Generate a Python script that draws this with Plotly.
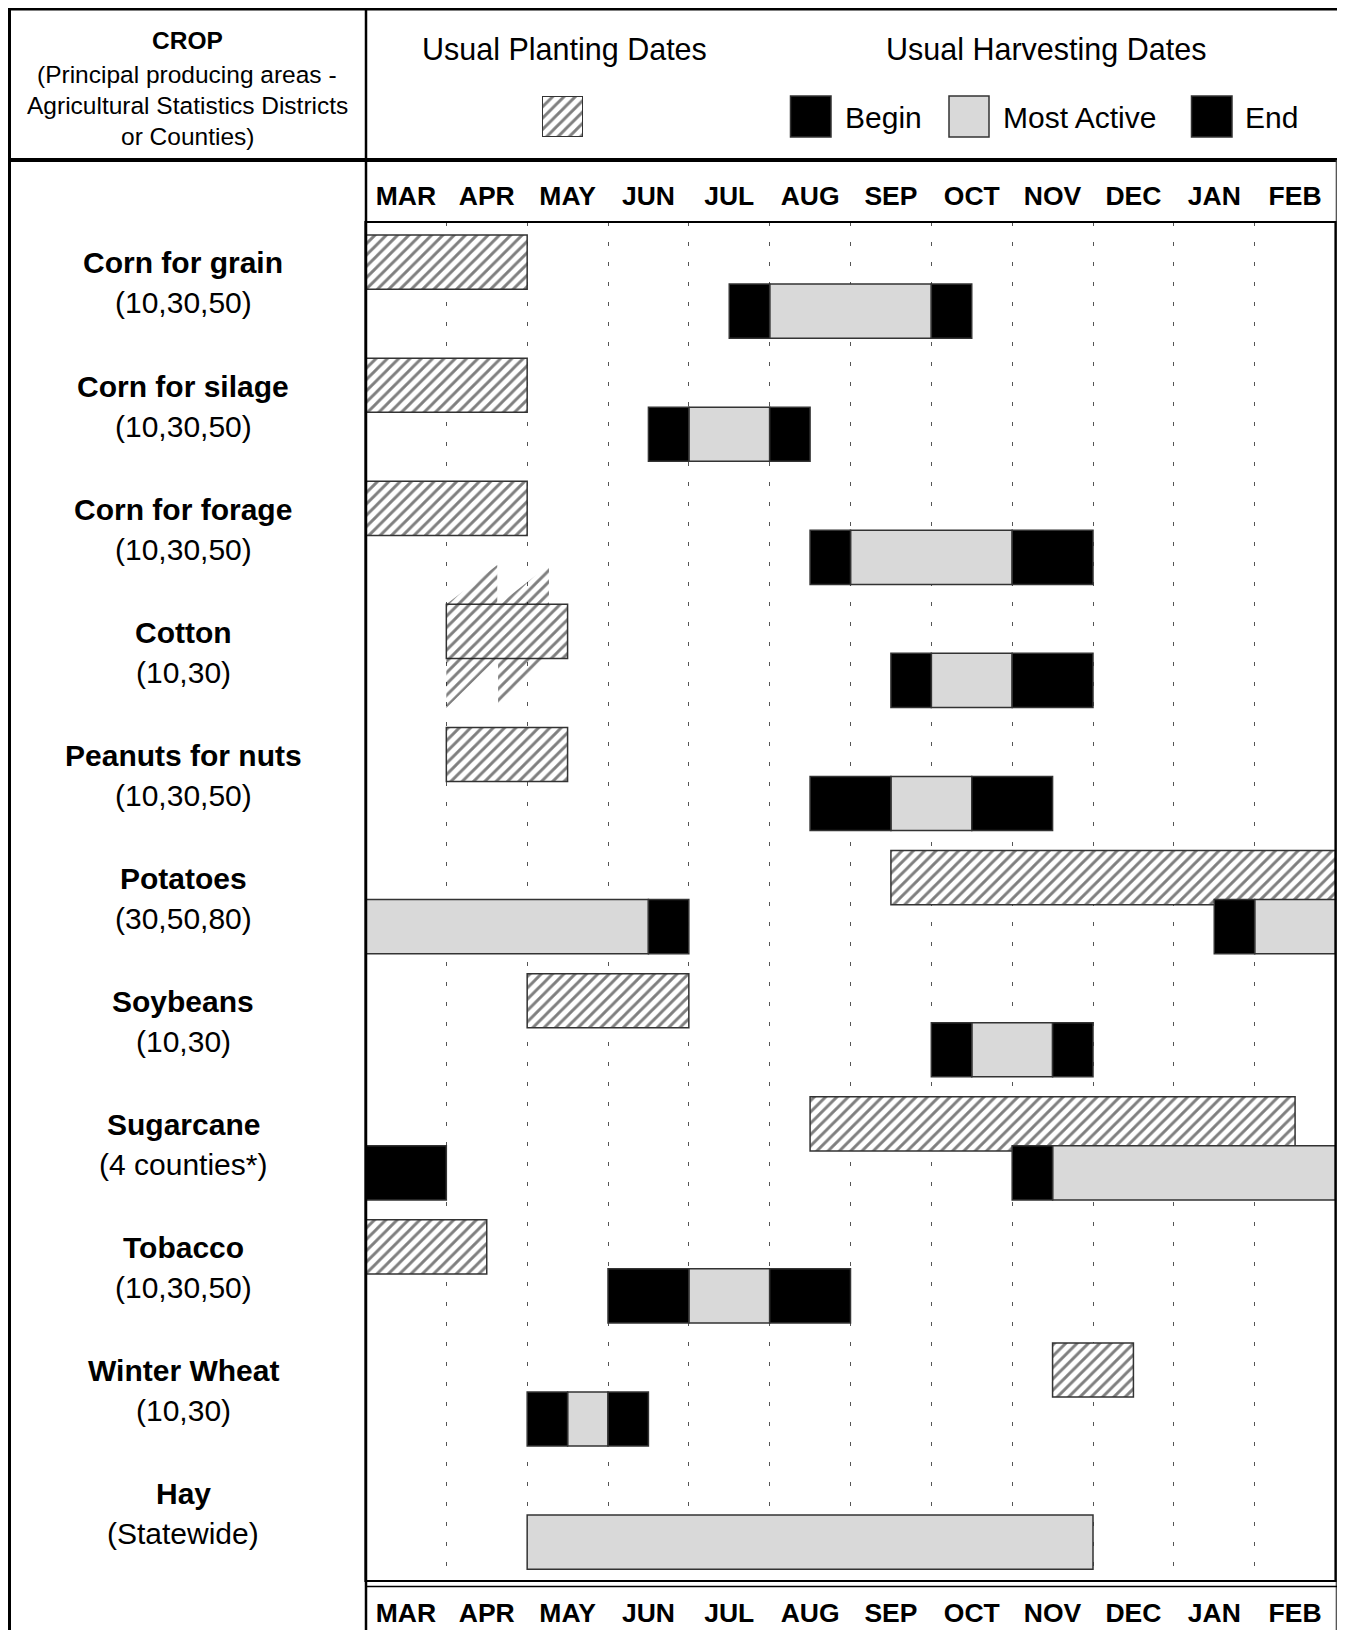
import plotly.graph_objects as go

W, H = 1329, 1622  # fits inside the window together with the page's 8px margin
OFF = 8

months = ["MAR", "APR", "MAY", "JUN", "JUL", "AUG", "SEP", "OCT", "NOV", "DEC", "JAN", "FEB"]
crops = ["Corn for grain", "Corn for silage", "Corn for forage", "Cotton", "Peanuts for nuts",
         "Potatoes", "Soybeans", "Sugarcane", "Tobacco", "Winter Wheat", "Hay"]
areas = ["(10,30,50)", "(10,30,50)", "(10,30,50)", "(10,30)", "(10,30,50)", "(30,50,80)",
         "(10,30)", "(4 counties*)", "(10,30,50)", "(10,30)", "(Statewide)"]

# months counted from March 1 (values > 12 run into the following year)
plant_start = [0, 0, 0, 1, 1, 6.5, 2, 5.5, 0, 8.5, None]
plant_end = [2, 2, 2, 2.5, 2.5, 12, 4, 11.5, 1.5, 9.5, None]
harvest_begin = [4.5, 3.5, 5.5, 6.5, 5.5, 10.5, 7, 8, 3, 2, 2]
active_start = [5, 4, 6, 7, 6.5, 11, 7.5, 8.5, 4, 2.5, 2]
active_end = [7, 5, 8, 8, 7.5, 15.5, 8.5, 12, 5, 3, 9]
harvest_end = [7.5, 5.5, 9, 9, 8.5, 16, 9, 13, 6, 3.5, 9]

# stray hatch fragments around the Cotton planting bar (month, row units)
cotton_frag_x = [[1.0, 1.63, 1.63], [1.65, 2.27, 2.27], [1.0, 1.62, 1.0], [1.64, 2.25, 1.64]]
cotton_frag_y = [[3.106, 2.786, 3.106], [3.106, 2.786, 3.106], [3.546, 3.546, 3.948], [3.546, 3.546, 3.948]]

PLANT_OFF, HARV_OFF, BAR_W = 0.326, 0.724, 0.44
Y_MAX = 11.04
RIGHT = 1335.5


def px(x):
    return (x - OFF) / W


def py(y):
    return 1 - (y - OFF) / H


def segments(s, e):
    out = []
    if s is None or e is None or e - s <= 0:
        return out
    if e <= 12:
        out.append((s, e))
    elif s >= 12:
        out.append((s - 12, e - 12))
    else:
        out.append((s, 12))
        out.append((0, e - 12))
    return out


def stage_bars(starts, ends, off):
    base, length, ys = [], [], []
    for i, (s, e) in enumerate(zip(starts, ends)):
        for a, b in segments(s, e):
            base.append(a)
            length.append(b - a)
            ys.append(i + off)
    return base, length, ys


hatch = dict(shape="/", fgcolor="black", bgcolor="white", size=8, solidity=0.36)
outline = dict(color="#333333", width=1.5)
LIGHT = "#d9d9d9"

fig = go.Figure()

for fx, fy in zip(cotton_frag_x, cotton_frag_y):
    fig.add_trace(go.Scatter(
        x=fx + [fx[0]], y=fy + [fy[0]], mode="lines", fill="toself",
        fillcolor="rgba(0,0,0,0)", line=dict(width=0, color="rgba(0,0,0,0)"),
        fillpattern=dict(shape="/", fgcolor="black", bgcolor="rgba(0,0,0,0)", size=8, solidity=0.36),
        hoverinfo="skip", showlegend=False))

b, l, y = stage_bars(plant_start, plant_end, PLANT_OFF)
fig.add_trace(go.Bar(orientation="h", base=b, x=l, y=y, width=BAR_W,
                     marker=dict(color="white", pattern=hatch, line=outline),
                     showlegend=False, hoverinfo="skip"))

for starts, ends, col in [(active_start, active_end, LIGHT),
                          (harvest_begin, active_start, "black"),
                          (active_end, harvest_end, "black")]:
    b, l, y = stage_bars(starts, ends, HARV_OFF)
    fig.add_trace(go.Bar(orientation="h", base=b, x=l, y=y, width=BAR_W,
                         marker=dict(color=col, line=outline),
                         showlegend=False, hoverinfo="skip"))

# legend hatch swatch in its own small subplot
fig.add_trace(go.Bar(orientation="h", base=[0], x=[1], y=[0.5], width=1,
                     marker=dict(color="white", pattern=hatch, line=dict(color="#333333", width=2)),
                     xaxis="x3", yaxis="y3", showlegend=False, hoverinfo="skip"))

tickfont = dict(family="Liberation Sans", size=26.5, color="black", weight="bold")
tv = [i + 0.5 for i in range(12)]

fig.update_layout(
    width=W, height=H, margin=dict(l=0, r=0, t=0, b=0),
    paper_bgcolor="white", plot_bgcolor="rgba(0,0,0,0)",
    barmode="overlay", showlegend=False,
    xaxis=dict(domain=[px(365.5), px(RIGHT)], range=[0, 12], side="top", anchor="y",
               tickvals=tv, ticktext=months, tickfont=tickfont, ticks="",
               ticklabelstandoff=11,
               showgrid=False, zeroline=False, showline=False,
               minor=dict(tickvals=list(range(1, 12)), showgrid=True, gridcolor="#555555",
                          gridwidth=1, griddash="4px,16px", ticks="")),
    xaxis2=dict(overlaying="x", matches="x", side="bottom", anchor="y",
                tickvals=tv, ticktext=months, tickfont=tickfont, ticks="",
                ticklabelstandoff=13,
                showgrid=False, zeroline=False, showline=False),
    yaxis=dict(domain=[py(1581), py(222)], range=[Y_MAX, 0], showticklabels=False,
               showgrid=False, zeroline=False, showline=False),
    xaxis3=dict(domain=[px(542), px(583)], range=[0, 1], visible=False, anchor="y3"),
    yaxis3=dict(domain=[py(137), py(96)], range=[0, 1], visible=False, anchor="x3"),
)

# invisible marker that activates the bottom month axis
fig.add_trace(go.Scatter(x=[0.5], y=[0], xaxis="x2", yaxis="y", mode="markers",
                         marker=dict(opacity=0), hoverinfo="skip", showlegend=False))

shapes = []


def line(x0, y0, x1, y1, w, c="black"):
    shapes.append(dict(type="line", xref="paper", yref="paper", x0=px(x0), y0=py(y0),
                       x1=px(x1), y1=py(y1), line=dict(color=c, width=w)))


def rect(x0, y0, x1, y1, fill, w=1.5, c="#333333"):
    shapes.append(dict(type="rect", xref="paper", yref="paper", x0=px(x0), y0=py(y0),
                       x1=px(x1), y1=py(y1), fillcolor=fill, line=dict(color=c, width=w)))


EDGE = W + OFF
line(8, 9.2, EDGE, 9.2, 2.5)
line(9.5, 8, 9.5, H + OFF, 3)
line(366, 8, 366, H + OFF, 2.5)
line(8, 160, EDGE, 160, 4)
line(EDGE - 0.7, 160, EDGE - 0.7, H + OFF, 1.2, "#444444")
shapes.append(dict(type="rect", xref="paper", yref="paper", x0=px(365.5), y0=py(1581),
                   x1=px(RIGHT), y1=py(222), line=dict(color="black", width=2.2),
                   fillcolor="rgba(0,0,0,0)"))
line(366, 1586.5, EDGE, 1586.5, 1.3)

rect(790.5, 96, 831, 137, "black")
rect(949, 96, 989, 137, LIGHT)
rect(1191.5, 96, 1232, 137, "black")

fig.update_layout(shapes=shapes)

ann = []


def text(x, y, s, size, anchor="center", bold=False, yref="paper"):
    ann.append(dict(x=px(x), y=(py(y) if yref == "paper" else y), xref="paper", yref=yref,
                    text=s, showarrow=False, xanchor=anchor, yanchor="middle",
                    font=dict(family="Liberation Sans", size=size, color="black",
                              weight="bold" if bold else "normal")))


text(187, 40, "CROP", 24.5, bold=True)
text(187, 74, "(Principal producing areas -", 24.5)
text(187, 105.5, "Agricultural Statistics Districts", 24.5)
text(187, 137, "or Counties)", 24.5)
text(564, 50, "Usual Planting Dates", 30.5)
text(1046, 50, "Usual Harvesting Dates", 30.5)
text(843, 118, "Begin", 30, anchor="left")
text(1001, 118, "Most Active", 30, anchor="left")
text(1243, 118, "End", 30, anchor="left")

for i, (c, a) in enumerate(zip(crops, areas)):
    text(183, i + 0.333, c, 30, bold=True, yref="y")
    text(183, i + 0.658, a, 30, yref="y")

fig.update_layout(annotations=ann)

fig.write_html("out.html")
